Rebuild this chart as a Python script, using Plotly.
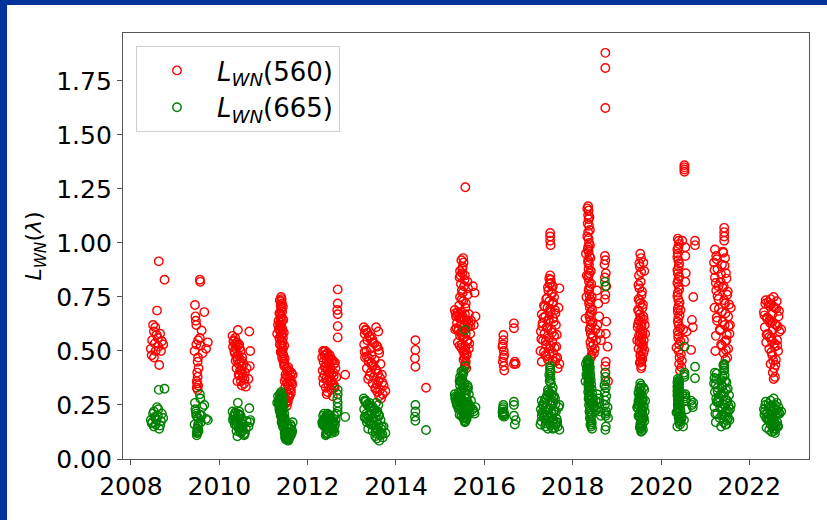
import plotly.graph_objects as go

# ---- data: campaign times (decimal year) and normalized water-leaving radiances ----
t2008 = [2008.63, 2008.76, 2008.59, 2008.50, 2008.55, 2008.52, 2008.58, 2008.61, 2008.48, 2008.70,
         2008.73, 2008.45, 2008.56, 2008.68, 2008.47, 2008.52, 2008.64, 2008.62, 2008.54, 2008.66]
lwn560_2008 = [0.915, 0.83, 0.687, 0.62, 0.61, 0.59, 0.575, 0.56, 0.55, 0.545,
               0.53, 0.51, 0.50, 0.50, 0.48, 0.47, 0.435, 0.52, 0.535, 0.58]
lwn665_2008 = [0.32, 0.325, 0.24, 0.21, 0.19, 0.22, 0.18, 0.20, 0.17, 0.21,
               0.19, 0.18, 0.16, 0.175, 0.165, 0.15, 0.14, 0.23, 0.195, 0.155]

t2009 = [2009.56, 2009.57, 2009.45, 2009.66, 2009.46, 2009.47, 2009.48, 2009.60, 2009.52, 2009.74,
         2009.48, 2009.58, 2009.70, 2009.44, 2009.52, 2009.51, 2009.53, 2009.50, 2009.51, 2009.49,
         2009.50, 2009.52, 2009.49, 2009.51, 2009.62, 2009.56]
lwn560_2009 = [0.83, 0.82, 0.713, 0.68, 0.66, 0.64, 0.62, 0.595, 0.55, 0.54,
               0.53, 0.525, 0.51, 0.50, 0.47, 0.45, 0.42, 0.40, 0.38, 0.36,
               0.35, 0.34, 0.33, 0.32, 0.49, 0.56]
lwn665_2009 = [0.30, 0.28, 0.26, 0.25, 0.23, 0.22, 0.21, 0.20, 0.19, 0.18,
               0.20, 0.17, 0.185, 0.16, 0.15, 0.14, 0.13, 0.12, 0.125, 0.11,
               0.14, 0.16, 0.12, 0.13, 0.24, 0.205]

t2010 = [2010.42, 2010.68, 2010.30, 2010.36, 2010.33, 2010.40, 2010.45, 2010.31, 2010.38, 2010.48,
         2010.70, 2010.35, 2010.43, 2010.52, 2010.41, 2010.47, 2010.55, 2010.69, 2010.39, 2010.50,
         2010.58, 2010.44, 2010.53, 2010.66, 2010.49, 2010.56, 2010.51, 2010.60, 2010.37, 2010.46,
         2010.32, 2010.34, 2010.39, 2010.42, 2010.44, 2010.47, 2010.50, 2010.53, 2010.57, 2010.62,
         2010.36, 2010.41, 2010.46, 2010.51]
lwn560_2010 = [0.597, 0.59, 0.57, 0.56, 0.55, 0.54, 0.53, 0.52, 0.51, 0.50,
               0.50, 0.49, 0.48, 0.47, 0.46, 0.45, 0.44, 0.43, 0.42, 0.41,
               0.40, 0.39, 0.38, 0.37, 0.36, 0.35, 0.34, 0.335, 0.455, 0.515,
               0.545, 0.50, 0.475, 0.525, 0.44, 0.41, 0.43, 0.395, 0.37, 0.42,
               0.53, 0.36, 0.385, 0.455]
lwn665_2010 = [0.26, 0.235, 0.22, 0.21, 0.20, 0.19, 0.22, 0.18, 0.17, 0.20,
               0.18, 0.16, 0.19, 0.15, 0.17, 0.14, 0.16, 0.17, 0.13, 0.15,
               0.12, 0.14, 0.16, 0.15, 0.12, 0.11, 0.13, 0.14, 0.185, 0.205,
               0.195, 0.175, 0.155, 0.21, 0.145, 0.125, 0.165, 0.135, 0.115, 0.175,
               0.215, 0.105, 0.145, 0.185]

t2011 = [2011.40, 2011.41, 2011.40, 2011.42, 2011.39, 2011.41, 2011.40, 2011.42, 2011.38, 2011.41,
         2011.39, 2011.42, 2011.40, 2011.38, 2011.41, 2011.43, 2011.39, 2011.42, 2011.40, 2011.44,
         2011.41, 2011.43, 2011.40, 2011.42, 2011.44, 2011.41, 2011.43, 2011.45, 2011.42, 2011.44,
         2011.46, 2011.47, 2011.52, 2011.58, 2011.63, 2011.50, 2011.55, 2011.60, 2011.48, 2011.53,
         2011.65, 2011.57, 2011.49, 2011.62, 2011.51, 2011.56, 2011.59, 2011.50, 2011.54, 2011.52,
         2011.53, 2011.61, 2011.66, 2011.34, 2011.35, 2011.36,
         2011.37, 2011.44, 2011.36, 2011.45, 2011.38, 2011.46, 2011.37, 2011.47, 2011.39, 2011.48,
         2011.56, 2011.61, 2011.64, 2011.54, 2011.59, 2011.50, 2011.57, 2011.62, 2011.47, 2011.55,
         2011.31, 2011.33, 2011.37]
lwn560_2011 = [0.75, 0.74, 0.73, 0.72, 0.71, 0.70, 0.69, 0.68, 0.67, 0.66,
               0.65, 0.64, 0.63, 0.62, 0.61, 0.60, 0.59, 0.58, 0.57, 0.56,
               0.55, 0.54, 0.53, 0.52, 0.51, 0.50, 0.49, 0.48, 0.47, 0.46,
               0.45, 0.43, 0.42, 0.41, 0.40, 0.39, 0.38, 0.37, 0.36, 0.35,
               0.345, 0.34, 0.33, 0.32, 0.31, 0.30, 0.29, 0.28, 0.27, 0.26,
               0.245, 0.36, 0.39, 0.64, 0.60, 0.56,
               0.735, 0.705, 0.675, 0.645, 0.615, 0.585, 0.555, 0.525, 0.495, 0.465,
               0.425, 0.385, 0.355, 0.405, 0.325, 0.375, 0.285, 0.305, 0.44, 0.265,
               0.58, 0.62, 0.53]
lwn665_2011 = [0.31, 0.30, 0.29, 0.295, 0.28, 0.27, 0.285, 0.26, 0.275, 0.25,
               0.265, 0.24, 0.255, 0.23, 0.245, 0.22, 0.235, 0.21, 0.225, 0.20,
               0.215, 0.19, 0.205, 0.18, 0.195, 0.17, 0.185, 0.16, 0.175, 0.15,
               0.165, 0.14, 0.13, 0.12, 0.15, 0.11, 0.10, 0.14, 0.12, 0.09,
               0.13, 0.11, 0.10, 0.12, 0.09, 0.085, 0.11, 0.10, 0.09, 0.12,
               0.095, 0.16, 0.17, 0.27, 0.25, 0.23,
               0.28, 0.27, 0.26, 0.25, 0.24, 0.23, 0.22, 0.21, 0.20, 0.19,
               0.15, 0.14, 0.12, 0.16, 0.10, 0.13, 0.09, 0.11, 0.18, 0.105,
               0.26, 0.29, 0.30]

t2012 = [2012.68, 2012.68, 2012.67, 2012.68, 2012.68, 2012.68, 2012.85, 2012.35, 2012.40, 2012.45,
         2012.38, 2012.50, 2012.33, 2012.43, 2012.55, 2012.36, 2012.48, 2012.60, 2012.40, 2012.52,
         2012.34, 2012.45, 2012.58, 2012.38, 2012.50, 2012.42, 2012.55, 2012.36, 2012.47, 2012.60,
         2012.41, 2012.53, 2012.45, 2012.57, 2012.63, 2012.65,
         2012.37, 2012.42, 2012.47, 2012.52, 2012.57, 2012.62, 2012.39, 2012.44, 2012.49, 2012.54,
         2012.59, 2012.35, 2012.46, 2012.51, 2012.56, 2012.61, 2012.43, 2012.48]
lwn560_2012 = [0.785, 0.72, 0.69, 0.67, 0.615, 0.563, 0.39, 0.50, 0.50, 0.49,
               0.48, 0.48, 0.47, 0.46, 0.46, 0.45, 0.44, 0.44, 0.43, 0.42,
               0.41, 0.41, 0.40, 0.39, 0.38, 0.37, 0.36, 0.35, 0.34, 0.34,
               0.33, 0.32, 0.31, 0.29, 0.42, 0.38,
               0.495, 0.485, 0.475, 0.465, 0.455, 0.445, 0.425, 0.415, 0.405, 0.395,
               0.385, 0.375, 0.365, 0.355, 0.345, 0.33, 0.30, 0.44]
lwn665_2012 = [0.32, 0.30, 0.28, 0.26, 0.24, 0.22, 0.195, 0.20, 0.19, 0.21,
               0.18, 0.20, 0.17, 0.19, 0.16, 0.18, 0.15, 0.20, 0.17, 0.14,
               0.16, 0.18, 0.13, 0.15, 0.17, 0.12, 0.14, 0.16, 0.13, 0.15,
               0.11, 0.14, 0.12, 0.16, 0.18, 0.21,
               0.21, 0.20, 0.19, 0.18, 0.17, 0.16, 0.15, 0.14, 0.13, 0.12,
               0.175, 0.165, 0.155, 0.145, 0.135, 0.125, 0.115, 0.205]

t2013 = [2013.27, 2013.32, 2013.55, 2013.60, 2013.29, 2013.40, 2013.35, 2013.48, 2013.28, 2013.58,
         2013.42, 2013.33, 2013.62, 2013.45, 2013.30, 2013.52, 2013.38, 2013.65, 2013.46, 2013.34,
         2013.56, 2013.43, 2013.68, 2013.50, 2013.37, 2013.60, 2013.47, 2013.72, 2013.54, 2013.64,
         2013.58, 2013.76, 2013.62, 2013.70, 2013.66,
         2013.31, 2013.36, 2013.41, 2013.46, 2013.51, 2013.56, 2013.61, 2013.29, 2013.34, 2013.39,
         2013.44, 2013.49, 2013.54, 2013.59, 2013.64, 2013.69, 2013.40, 2013.53, 2013.57]
lwn560_2013 = [0.61, 0.60, 0.61, 0.59, 0.58, 0.57, 0.55, 0.54, 0.53, 0.52,
               0.51, 0.50, 0.49, 0.48, 0.47, 0.46, 0.45, 0.44, 0.43, 0.42,
               0.41, 0.40, 0.39, 0.38, 0.37, 0.36, 0.35, 0.34, 0.33, 0.32,
               0.31, 0.315, 0.29, 0.30, 0.28,
               0.595, 0.585, 0.565, 0.555, 0.535, 0.525, 0.505, 0.495, 0.475, 0.465,
               0.445, 0.435, 0.415, 0.395, 0.375, 0.355, 0.385, 0.325, 0.345]
lwn665_2013 = [0.28, 0.27, 0.26, 0.25, 0.27, 0.26, 0.25, 0.24, 0.23, 0.22,
               0.24, 0.21, 0.20, 0.22, 0.19, 0.21, 0.20, 0.18, 0.19, 0.17,
               0.18, 0.16, 0.15, 0.17, 0.14, 0.16, 0.13, 0.15, 0.12, 0.11,
               0.13, 0.12, 0.085, 0.10, 0.14,
               0.265, 0.255, 0.245, 0.235, 0.225, 0.215, 0.205, 0.195, 0.185, 0.175,
               0.165, 0.155, 0.145, 0.135, 0.125, 0.115, 0.21, 0.105, 0.095]

t2014 = [2014.44, 2014.44, 2014.43, 2014.44, 2014.68]
lwn560_2014 = [0.55, 0.505, 0.466, 0.427, 0.33]
lwn665_2014 = [0.25, 0.22, 0.196, 0.177, 0.134]

t2015 = [2015.57, 2015.52, 2015.53, 2015.51, 2015.45, 2015.50, 2015.44, 2015.55, 2015.62, 2015.47,
         2015.63, 2015.49, 2015.62, 2015.45, 2015.52, 2015.43, 2015.57, 2015.33, 2015.40, 2015.48,
         2015.56, 2015.65, 2015.36, 2015.44, 2015.52, 2015.60, 2015.70, 2015.38, 2015.47, 2015.55,
         2015.63, 2015.34, 2015.42, 2015.50, 2015.58, 2015.68, 2015.45, 2015.53, 2015.61, 2015.40,
         2015.49, 2015.57, 2015.65, 2015.52, 2015.60, 2015.55, 2015.58, 2015.56, 2015.59, 2015.56,
         2015.74, 2015.78, 2015.76, 2015.80,
         2015.48, 2015.50, 2015.46, 2015.54, 2015.51, 2015.49, 2015.58, 2015.35, 2015.39, 2015.43,
         2015.47, 2015.51, 2015.55, 2015.59, 2015.64, 2015.68, 2015.37, 2015.41, 2015.46, 2015.50,
         2015.54, 2015.62, 2015.66, 2015.44, 2015.48, 2015.56, 2015.60, 2015.53, 2015.57, 2015.55]
lwn560_2015 = [1.258, 0.93, 0.91, 0.89, 0.87, 0.86, 0.84, 0.83, 0.82, 0.81,
               0.79, 0.78, 0.76, 0.75, 0.73, 0.71, 0.70, 0.69, 0.68, 0.68,
               0.67, 0.67, 0.66, 0.65, 0.65, 0.64, 0.64, 0.63, 0.62, 0.62,
               0.61, 0.60, 0.60, 0.59, 0.58, 0.58, 0.57, 0.56, 0.55, 0.54,
               0.53, 0.52, 0.51, 0.50, 0.49, 0.47, 0.45, 0.43, 0.42, 0.85,
               0.80, 0.77, 0.62, 0.66,
               0.92, 0.88, 0.85, 0.80, 0.77, 0.74, 0.72, 0.675, 0.665, 0.67,
               0.655, 0.66, 0.645, 0.635, 0.625, 0.615, 0.605, 0.595, 0.585, 0.575,
               0.565, 0.545, 0.535, 0.525, 0.515, 0.505, 0.48, 0.46, 0.44, 0.485]
lwn665_2015 = [0.43, 0.41, 0.40, 0.39, 0.38, 0.37, 0.36, 0.35, 0.34, 0.36,
               0.33, 0.35, 0.32, 0.34, 0.33, 0.31, 0.32, 0.30, 0.29, 0.31,
               0.28, 0.30, 0.27, 0.29, 0.26, 0.28, 0.27, 0.25, 0.27, 0.24,
               0.26, 0.28, 0.23, 0.25, 0.22, 0.24, 0.26, 0.21, 0.23, 0.25,
               0.20, 0.22, 0.24, 0.19, 0.21, 0.18, 0.20, 0.17, 0.19, 0.597,
               0.23, 0.21, 0.22, 0.24,
               0.405, 0.385, 0.365, 0.345, 0.33, 0.315, 0.30, 0.29, 0.28, 0.285,
               0.275, 0.27, 0.265, 0.255, 0.25, 0.245, 0.26, 0.24, 0.235, 0.23,
               0.225, 0.215, 0.21, 0.205, 0.20, 0.195, 0.185, 0.19, 0.175, 0.215]

t2016 = [2016.67, 2016.67, 2016.43, 2016.43, 2016.42, 2016.44, 2016.43, 2016.42, 2016.44, 2016.45,
         2016.67, 2016.71, 2016.69, 2016.41, 2016.45]
lwn560_2016 = [0.628, 0.605, 0.574, 0.55, 0.53, 0.50, 0.47, 0.45, 0.43, 0.41,
               0.44, 0.44, 0.45, 0.52, 0.48]
lwn665_2016 = [0.265, 0.25, 0.25, 0.24, 0.23, 0.22, 0.21, 0.20, 0.21, 0.196,
               0.20, 0.18, 0.16, 0.215, 0.205]

t2017 = [2017.49, 2017.49, 2017.49, 2017.50, 2017.49, 2017.50, 2017.48, 2017.55, 2017.45, 2017.52,
         2017.58, 2017.40, 2017.47, 2017.54, 2017.35, 2017.43, 2017.60, 2017.50, 2017.30, 2017.38,
         2017.56, 2017.45, 2017.32, 2017.62, 2017.41, 2017.52, 2017.28, 2017.36, 2017.58, 2017.46,
         2017.33, 2017.54, 2017.40, 2017.63, 2017.48, 2017.27, 2017.56, 2017.38, 2017.65, 2017.44,
         2017.60, 2017.70, 2017.66, 2017.30, 2017.70, 2017.68,
         2017.47, 2017.51, 2017.44, 2017.53, 2017.42, 2017.56, 2017.37, 2017.49, 2017.61, 2017.34,
         2017.46, 2017.57, 2017.31, 2017.43, 2017.53, 2017.64, 2017.29, 2017.39, 2017.50, 2017.59,
         2017.35, 2017.47, 2017.62, 2017.41, 2017.55]
lwn560_2017 = [1.046, 1.03, 1.01, 0.99, 0.85, 0.83, 0.81, 0.80, 0.78, 0.77,
               0.75, 0.74, 0.73, 0.72, 0.71, 0.70, 0.69, 0.68, 0.67, 0.66,
               0.65, 0.64, 0.63, 0.62, 0.61, 0.60, 0.59, 0.58, 0.57, 0.56,
               0.55, 0.54, 0.53, 0.52, 0.51, 0.50, 0.49, 0.48, 0.47, 0.46,
               0.45, 0.44, 0.42, 0.45, 0.79, 0.70,
               0.835, 0.815, 0.795, 0.765, 0.745, 0.725, 0.705, 0.695, 0.675, 0.655,
               0.645, 0.635, 0.615, 0.605, 0.585, 0.575, 0.555, 0.545, 0.525, 0.515,
               0.495, 0.485, 0.465, 0.475, 0.455]
lwn665_2017 = [0.43, 0.42, 0.41, 0.40, 0.38, 0.37, 0.36, 0.33, 0.31, 0.30,
               0.29, 0.28, 0.30, 0.27, 0.26, 0.29, 0.28, 0.25, 0.27, 0.24,
               0.26, 0.23, 0.25, 0.22, 0.24, 0.21, 0.23, 0.20, 0.22, 0.19,
               0.21, 0.18, 0.20, 0.17, 0.19, 0.16, 0.18, 0.15, 0.17, 0.14,
               0.16, 0.135, 0.15, 0.20, 0.25, 0.24,
               0.39, 0.35, 0.32, 0.315, 0.295, 0.285, 0.275, 0.265, 0.255, 0.245,
               0.235, 0.225, 0.215, 0.205, 0.195, 0.185, 0.175, 0.165, 0.155, 0.145,
               0.19, 0.17, 0.16, 0.18, 0.14]

t2018 = [2018.35, 2018.36, 2018.35, 2018.36, 2018.37, 2018.35, 2018.36, 2018.37, 2018.35, 2018.36,
         2018.38, 2018.35, 2018.37, 2018.36, 2018.38, 2018.35, 2018.37, 2018.39, 2018.36, 2018.38,
         2018.40, 2018.37, 2018.39, 2018.41, 2018.38, 2018.40, 2018.42, 2018.39, 2018.41, 2018.43,
         2018.40, 2018.42, 2018.44, 2018.43, 2018.41, 2018.74, 2018.74, 2018.74, 2018.73, 2018.74,
         2018.72, 2018.75, 2018.73, 2018.76, 2018.74, 2018.73, 2018.76, 2018.75, 2018.79, 2018.74,
         2018.80, 2018.55, 2018.58, 2018.60, 2018.56, 2018.62, 2018.64, 2018.52, 2018.75, 2018.74,
         2018.33, 2018.38, 2018.34, 2018.39, 2018.33, 2018.39, 2018.34, 2018.40, 2018.35, 2018.41,
         2018.36, 2018.42, 2018.37, 2018.43, 2018.38, 2018.44, 2018.39, 2018.45, 2018.40, 2018.46,
         2018.30, 2018.32, 2018.31, 2018.29, 2018.47, 2018.50, 2018.48, 2018.53]
lwn560_2018 = [1.17, 1.15, 1.13, 1.11, 1.08, 1.05, 1.02, 1.00, 0.98, 0.96,
               0.94, 0.92, 0.90, 0.88, 0.86, 0.84, 0.82, 0.80, 0.78, 0.76,
               0.74, 0.72, 0.70, 0.68, 0.66, 0.64, 0.62, 0.60, 0.58, 0.56,
               0.54, 0.52, 0.50, 0.48, 0.47, 1.88, 1.81, 1.625, 0.94, 0.92,
               0.90, 0.86, 0.84, 0.80, 0.76, 0.74, 0.636, 0.58, 0.52, 0.40,
               0.36, 0.78, 0.72, 0.66, 0.62, 0.58, 0.55, 0.60, 0.45, 0.43,
               1.16, 1.12, 1.09, 1.06, 1.03, 0.99, 0.97, 0.93, 0.91, 0.87,
               0.85, 0.81, 0.79, 0.75, 0.73, 0.69, 0.67, 0.63, 0.61, 0.57,
               0.95, 0.85, 0.75, 0.65, 0.53, 0.51, 0.49, 0.55]
lwn665_2018 = [0.46, 0.45, 0.44, 0.43, 0.42, 0.41, 0.40, 0.39, 0.38, 0.37,
               0.36, 0.35, 0.34, 0.33, 0.32, 0.31, 0.30, 0.29, 0.28, 0.27,
               0.26, 0.25, 0.24, 0.23, 0.22, 0.21, 0.20, 0.19, 0.18, 0.17,
               0.16, 0.15, 0.14, 0.16, 0.18, 0.40, 0.38, 0.36, 0.82, 0.80,
               0.34, 0.33, 0.31, 0.29, 0.27, 0.25, 0.22, 0.20, 0.24, 0.21,
               0.19, 0.30, 0.28, 0.26, 0.24, 0.22, 0.20, 0.27, 0.15, 0.135,
               0.455, 0.445, 0.435, 0.425, 0.415, 0.405, 0.395, 0.385, 0.375, 0.365,
               0.355, 0.345, 0.335, 0.325, 0.315, 0.305, 0.295, 0.285, 0.275, 0.265,
               0.44, 0.42, 0.39, 0.36, 0.255, 0.245, 0.235, 0.225]

t2019 = [2019.53, 2019.55, 2019.60, 2019.52, 2019.62, 2019.50, 2019.54, 2019.51, 2019.56, 2019.49,
         2019.53, 2019.58, 2019.48, 2019.52, 2019.60, 2019.50, 2019.55, 2019.63, 2019.47, 2019.53,
         2019.58, 2019.50, 2019.56, 2019.61, 2019.52, 2019.58, 2019.49, 2019.55, 2019.60, 2019.53,
         2019.57, 2019.54, 2019.56, 2019.55, 2019.64, 2019.46,
         2019.51, 2019.55, 2019.49, 2019.57, 2019.52, 2019.59, 2019.50, 2019.54, 2019.61, 2019.48,
         2019.56, 2019.53, 2019.58, 2019.51, 2019.55, 2019.62, 2019.54, 2019.57, 2019.52, 2019.59]
lwn560_2019 = [0.95, 0.93, 0.91, 0.89, 0.87, 0.85, 0.82, 0.79, 0.76, 0.74,
               0.72, 0.70, 0.69, 0.67, 0.66, 0.64, 0.63, 0.62, 0.61, 0.60,
               0.59, 0.57, 0.56, 0.55, 0.54, 0.52, 0.51, 0.50, 0.49, 0.48,
               0.46, 0.45, 0.43, 0.42, 0.58, 0.55,
               0.905, 0.865, 0.805, 0.775, 0.735, 0.715, 0.685, 0.655, 0.645, 0.625,
               0.615, 0.585, 0.575, 0.545, 0.535, 0.505, 0.475, 0.465, 0.445, 0.53]
lwn665_2019 = [0.35, 0.34, 0.33, 0.33, 0.32, 0.31, 0.30, 0.29, 0.28, 0.27,
               0.26, 0.27, 0.25, 0.26, 0.24, 0.25, 0.23, 0.22, 0.24, 0.21,
               0.23, 0.20, 0.22, 0.19, 0.21, 0.18, 0.20, 0.17, 0.19, 0.16,
               0.15, 0.14, 0.13, 0.126, 0.27, 0.24,
               0.325, 0.315, 0.305, 0.295, 0.285, 0.275, 0.265, 0.255, 0.245, 0.235,
               0.225, 0.215, 0.205, 0.195, 0.185, 0.175, 0.165, 0.155, 0.145, 0.135]

t2020 = [2020.53, 2020.53, 2020.53, 2020.53, 2020.38, 2020.40, 2020.39, 2020.38, 2020.39, 2020.40,
         2020.38, 2020.39, 2020.40, 2020.38, 2020.39, 2020.40, 2020.38, 2020.39, 2020.40, 2020.38,
         2020.39, 2020.41, 2020.40, 2020.42, 2020.41, 2020.43, 2020.37, 2020.48, 2020.77, 2020.77,
         2020.55, 2020.55, 2020.56, 2020.55, 2020.73, 2020.70, 2020.72, 2020.58, 2020.68, 2020.50,
         2020.52,
         2020.41, 2020.37, 2020.41, 2020.37, 2020.41, 2020.37, 2020.41, 2020.37, 2020.42, 2020.38,
         2020.42, 2020.38, 2020.43, 2020.39, 2020.44, 2020.35, 2020.45, 2020.47, 2020.46, 2020.44]
lwn560_2020 = [1.36, 1.35, 1.34, 1.33, 1.02, 1.01, 0.98, 0.95, 0.92, 0.89,
               0.86, 0.83, 0.80, 0.77, 0.74, 0.71, 0.68, 0.65, 0.62, 0.59,
               0.56, 0.53, 0.50, 0.47, 0.44, 0.41, 0.97, 1.01, 1.01, 0.99,
               0.98, 0.94, 0.86, 0.82, 0.75, 0.644, 0.61, 0.59, 0.505, 0.60,
               0.55,
               0.995, 0.935, 0.905, 0.875, 0.845, 0.815, 0.785, 0.755, 0.725, 0.695,
               0.665, 0.635, 0.605, 0.575, 0.545, 0.515, 0.485, 0.455, 0.425, 0.69]
lwn665_2020 = [0.40, 0.39, 0.38, 0.52, 0.37, 0.36, 0.35, 0.34, 0.33, 0.32,
               0.31, 0.30, 0.29, 0.28, 0.27, 0.26, 0.25, 0.24, 0.23, 0.22,
               0.21, 0.20, 0.19, 0.18, 0.17, 0.16, 0.15, 0.30, 0.427, 0.374,
               0.30, 0.29, 0.28, 0.27, 0.26, 0.25, 0.24, 0.23, 0.27, 0.15,
               0.18,
               0.365, 0.355, 0.345, 0.335, 0.325, 0.315, 0.305, 0.295, 0.285, 0.275,
               0.265, 0.255, 0.245, 0.235, 0.225, 0.215, 0.205, 0.195, 0.185, 0.175]

t2021 = [2021.43, 2021.43, 2021.43, 2021.43, 2021.22, 2021.40, 2021.25, 2021.45, 2021.20, 2021.38,
         2021.28, 2021.47, 2021.22, 2021.35, 2021.42, 2021.25, 2021.50, 2021.30, 2021.45, 2021.21,
         2021.38, 2021.52, 2021.27, 2021.44, 2021.33, 2021.55, 2021.24, 2021.48, 2021.36, 2021.52,
         2021.42, 2021.50, 2021.46, 2021.56, 2021.30, 2021.58, 2021.23,
         2021.41, 2021.26, 2021.44, 2021.21, 2021.36, 2021.48, 2021.24, 2021.39, 2021.51, 2021.28,
         2021.43, 2021.54, 2021.31, 2021.46, 2021.26, 2021.40, 2021.53, 2021.34, 2021.49, 2021.45,
         2021.38, 2021.47]
lwn560_2021 = [1.07, 1.05, 1.03, 1.01, 0.97, 0.96, 0.94, 0.93, 0.91, 0.90,
               0.88, 0.86, 0.84, 0.82, 0.80, 0.78, 0.76, 0.74, 0.72, 0.70,
               0.68, 0.66, 0.64, 0.62, 0.60, 0.58, 0.57, 0.55, 0.53, 0.51,
               0.49, 0.47, 0.46, 0.62, 0.80, 0.70, 0.50,
               0.955, 0.925, 0.895, 0.875, 0.855, 0.835, 0.815, 0.795, 0.775, 0.755,
               0.735, 0.715, 0.695, 0.675, 0.655, 0.635, 0.615, 0.595, 0.575, 0.545,
               0.525, 0.505]
lwn665_2021 = [0.44, 0.43, 0.42, 0.41, 0.40, 0.38, 0.37, 0.36, 0.35, 0.34,
               0.33, 0.32, 0.31, 0.30, 0.29, 0.28, 0.27, 0.26, 0.25, 0.24,
               0.23, 0.22, 0.21, 0.20, 0.19, 0.18, 0.17, 0.16, 0.15, 0.19,
               0.17, 0.18, 0.16, 0.23, 0.27, 0.25, 0.21,
               0.435, 0.395, 0.385, 0.375, 0.365, 0.355, 0.345, 0.335, 0.325, 0.315,
               0.305, 0.295, 0.285, 0.275, 0.265, 0.255, 0.245, 0.235, 0.225, 0.215,
               0.205, 0.195]

t2022 = [2022.55, 2022.48, 2022.62, 2022.36, 2022.44, 2022.58, 2022.33, 2022.52, 2022.66, 2022.40,
         2022.47, 2022.60, 2022.35, 2022.54, 2022.68, 2022.42, 2022.50, 2022.63, 2022.38, 2022.57,
         2022.45, 2022.65, 2022.52, 2022.60, 2022.48, 2022.56, 2022.53, 2022.58, 2022.55, 2022.72,
         2022.37, 2022.43, 2022.49, 2022.55, 2022.61, 2022.67, 2022.34, 2022.40, 2022.46, 2022.52,
         2022.58, 2022.64, 2022.39, 2022.45, 2022.51, 2022.57, 2022.63, 2022.50, 2022.54, 2022.59]
lwn560_2022 = [0.75, 0.74, 0.73, 0.72, 0.71, 0.70, 0.68, 0.67, 0.66, 0.65,
               0.63, 0.62, 0.61, 0.60, 0.59, 0.58, 0.56, 0.55, 0.54, 0.52,
               0.51, 0.50, 0.48, 0.46, 0.44, 0.42, 0.40, 0.38, 0.37, 0.60,
               0.735, 0.725, 0.715, 0.705, 0.695, 0.685, 0.665, 0.655, 0.645, 0.635,
               0.625, 0.615, 0.575, 0.565, 0.545, 0.535, 0.525, 0.495, 0.455, 0.435]
lwn665_2022 = [0.28, 0.27, 0.26, 0.25, 0.24, 0.25, 0.23, 0.22, 0.24, 0.21,
               0.23, 0.20, 0.22, 0.19, 0.21, 0.18, 0.20, 0.17, 0.19, 0.16,
               0.18, 0.15, 0.17, 0.14, 0.16, 0.13, 0.15, 0.12, 0.14, 0.22,
               0.265, 0.255, 0.245, 0.235, 0.225, 0.215, 0.205, 0.195, 0.185, 0.175,
               0.165, 0.155, 0.145, 0.135, 0.125, 0.235, 0.21, 0.19, 0.17, 0.15]

x_ticks = [2008, 2010, 2012, 2014, 2016, 2018, 2020, 2022]
y_ticks = [0.00, 0.25, 0.50, 0.75, 1.00, 1.25, 1.50, 1.75]
label_560 = "<i>L<sub>WN</sub></i>(560)"
label_665 = "<i>L<sub>WN</sub></i>(665)"
y_title = "<i>L<sub>WN</sub></i>(<i>λ</i>)"

# ---- assemble ----
times = [t2008, t2009, t2010, t2011, t2012, t2013, t2014, t2015, t2016, t2017,
         t2018, t2019, t2020, t2021, t2022]
v560 = [lwn560_2008, lwn560_2009, lwn560_2010, lwn560_2011, lwn560_2012, lwn560_2013,
        lwn560_2014, lwn560_2015, lwn560_2016, lwn560_2017, lwn560_2018, lwn560_2019,
        lwn560_2020, lwn560_2021, lwn560_2022]
v665 = [lwn665_2008, lwn665_2009, lwn665_2010, lwn665_2011, lwn665_2012, lwn665_2013,
        lwn665_2014, lwn665_2015, lwn665_2016, lwn665_2017, lwn665_2018, lwn665_2019,
        lwn665_2020, lwn665_2021, lwn665_2022]

x_all, y560, y665 = [], [], []
for t, a, b in zip(times, v560, v665):
    n = min(len(t), len(a), len(b))
    x_all += t[:n]
    y560 += a[:n]
    y665 += b[:n]

FONT = "DejaVu Sans"
fig = go.Figure()
fig.add_trace(go.Scatter(
    x=x_all, y=y560, mode="markers", name=label_560,
    marker=dict(symbol="circle-open", size=8.5, color="#ff0000", line=dict(width=1.4, color="#ff0000")),
))
fig.add_trace(go.Scatter(
    x=x_all, y=y665, mode="markers", name=label_665,
    marker=dict(symbol="circle-open", size=8.5, color="#008000", line=dict(width=1.4, color="#008000")),
))

# white canvas over blue frame (blue visible at top and left)
L, R, T, B = 123, 18, 33, 61
PW, PH = 827 - L - R, 520 - T - B
def px(xp):
    return (xp - L) / PW
def py(yp):
    return (520 - B - yp) / PH
fig.add_shape(type="rect", xref="paper", yref="paper",
              x0=px(7), x1=px(830), y0=py(523), y1=py(5),
              fillcolor="white", line=dict(width=0), layer="below")

fig.update_layout(
    width=827, height=520,
    margin=dict(l=L, r=R, t=T, b=B, autoexpand=False),
    paper_bgcolor="#00349a", plot_bgcolor="white",
    font=dict(family=FONT, size=25, color="black"),
    showlegend=True,
    legend=dict(x=px(136), y=py(46), xanchor="left", yanchor="top",
                bgcolor="rgba(255,255,255,0.85)", bordercolor="#d0d0d0", borderwidth=1,
                font=dict(family=FONT, size=26, color="black"),
                itemwidth=70, tracegroupgap=0),
)
fig.update_xaxes(range=[2007.82, 2023.35], tickvals=x_ticks, ticktext=[str(v) for v in x_ticks],
                 showgrid=False, zeroline=False, showline=True, mirror=True,
                 linecolor="#555555", linewidth=1.3, ticks="outside", ticklen=5,
                 tickcolor="#555555", tickfont=dict(family=FONT, size=25, color="black"))
fig.update_yaxes(range=[0, 1.972], tickvals=y_ticks, ticktext=[f"{v:.2f}" for v in y_ticks],
                 showgrid=False, zeroline=False, showline=True, mirror=True,
                 linecolor="#555555", linewidth=1.3, ticks="outside", ticklen=5,
                 tickcolor="#555555", tickfont=dict(family=FONT, size=25, color="black"),
                 title=dict(text=y_title, font=dict(family=FONT, size=22, color="black"), standoff=8))

fig.write_html("out.html")
